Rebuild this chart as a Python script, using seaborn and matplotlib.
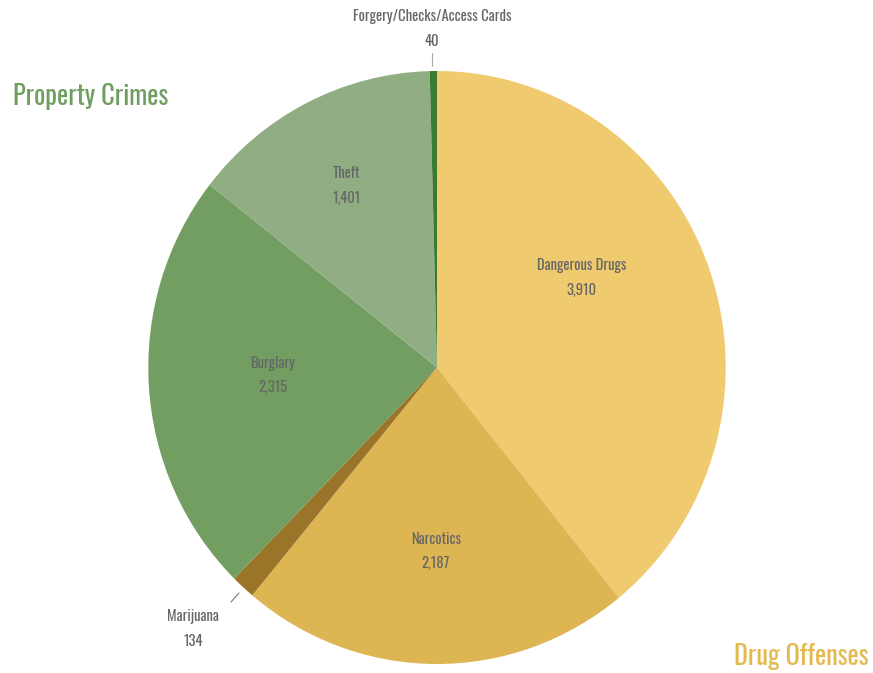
import matplotlib
matplotlib.use('Agg')
import matplotlib.pyplot as plt
import seaborn as sns
import numpy as np

categories = ['Dangerous Drugs', 'Narcotics', 'Marijuana', 'Burglary', 'Theft',
              'Forgery/Checks/Access Cards']
counts = [3910, 2187, 134, 2315, 1401, 40]
colors = ['#F0CA6E', '#DDB653', '#9A7529', '#729E62', '#91AD84', '#3C7A31']
groups = ['Property Crimes', 'Drug Offenses']
group_colors = ['#6E9E5F', '#E3B950']

sns.set_theme(style='white')
plt.rcParams['font.family'] = ['Oswald', 'Roboto Condensed', 'Liberation Sans Narrow',
                               'DejaVu Sans']

W, H = 873, 673
# pie centre and radii in image pixels (the original is slightly stretched)
cx, cy, rx, ry = 437, 367.5, 288.7, 296.5

fig = plt.figure(figsize=(W / 100, H / 100), dpi=100)
ax = fig.add_axes([0, 0, 1, 1])
wedges, _ = ax.pie(counts, colors=colors, startangle=90, counterclock=False,
                   radius=1, wedgeprops=dict(linewidth=0))
ax.set_aspect('auto')
ax.set_xlim(-cx / rx, (W - cx) / rx)
ax.set_ylim(-(H - cy) / ry, cy / ry)
ax.axis('off')


def px(x, y):
    # image pixel (top-left origin) -> data coords
    return (x - cx) / rx, (cy - y) / ry


# label placement: (fraction of radius, angle shift in degrees) per slice
inside = {'Dangerous Drugs': (0.585, 11.5), 'Narcotics': (0.62, 0),
          'Burglary': (0.57, -1), 'Theft': (0.688, 0.5)}
txt = '#666666'
lab_kw = dict(ha='center', va='center', fontsize=10.5, color=txt,
              linespacing=1.8, fontweight='light')
for w, name, val in zip(wedges, categories, counts):
    lab = f'{name}\n{val:,}'
    mid = np.deg2rad((w.theta1 + w.theta2) / 2)
    if name in inside:
        f, shift = inside[name]
        a = mid + np.deg2rad(shift)
        ax.text(f * np.cos(a), f * np.sin(a), lab, **lab_kw)
    elif name == 'Marijuana':
        ax.plot(*zip(px(239, 593), px(231, 602)), color='#777777', lw=0.8)
        ax.text(*px(193, 629), lab, **lab_kw)
    else:
        ax.plot(*zip(px(432, 53), px(432, 66)), color='#aaaaaa', lw=0.8)
        ax.text(*px(432, 29), lab, **lab_kw)

ax.text(*px(13, 96), groups[0], ha='left', va='center', fontsize=19,
        color=group_colors[0])
ax.text(*px(869, 657), groups[1], ha='right', va='center', fontsize=19,
        color=group_colors[1])

fig.savefig('out.png', dpi=100, facecolor='white')
